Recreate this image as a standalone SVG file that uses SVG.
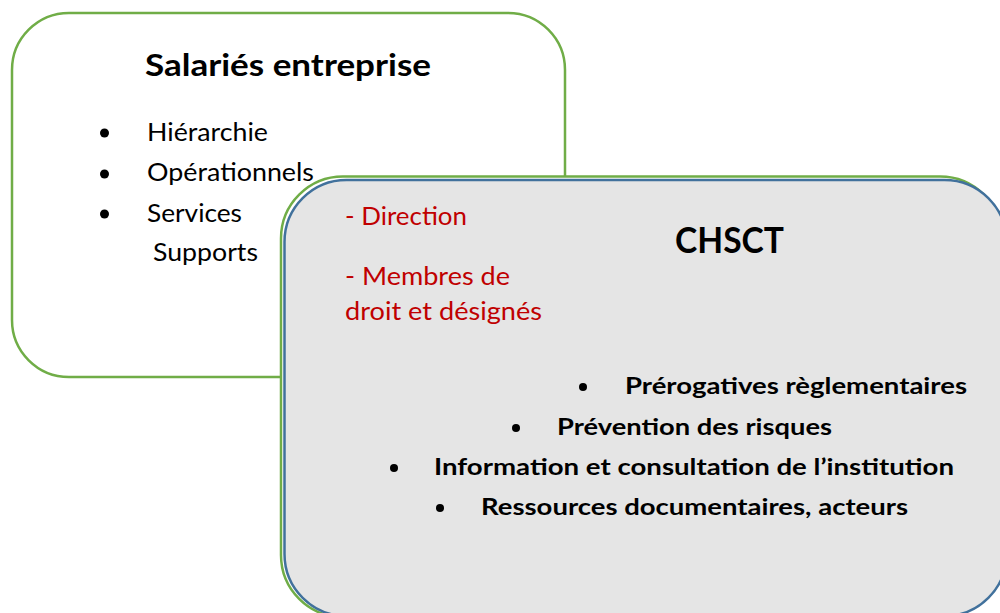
<svg xmlns="http://www.w3.org/2000/svg" width="1000" height="613" viewBox="0 0 1000 613">
<style>
.t{font-family:Lato,"Open Sans","Liberation Sans",sans-serif;}
.reg{font-size:25px;fill:#000;}
.red{font-size:25px;fill:#C00000;}
.bold{font-weight:bold;fill:#000;}
.bl{font-size:22.5px;}
.dot{fill:#000;}
</style>
<rect width="1000" height="613" fill="#fff"/>
<g id="salaries">
<rect x="12" y="13" width="553" height="364" rx="57" ry="57" fill="#fff" stroke="#70AD47" stroke-width="2.5"/>
<text class="t bold" x="145" y="76" font-size="31" textLength="286" lengthAdjust="spacingAndGlyphs">Salariés entreprise</text>
<circle class="dot" cx="104.5" cy="133" r="4.5"/>
<circle class="dot" cx="104.5" cy="174" r="4.5"/>
<circle class="dot" cx="104.5" cy="214" r="4.5"/>
<text class="t reg" x="147" y="141" textLength="121" lengthAdjust="spacingAndGlyphs">Hiérarchie</text>
<text class="t reg" x="147" y="181" textLength="167" lengthAdjust="spacingAndGlyphs">Opérationnels</text>
<text class="t reg" x="147" y="222" textLength="95" lengthAdjust="spacingAndGlyphs">Services</text>
<text class="t reg" x="153" y="261" textLength="105" lengthAdjust="spacingAndGlyphs">Supports</text>
</g>
<g id="chsct">
<rect x="281" y="176.5" width="721" height="440.5" rx="62" ry="62" fill="#fff" stroke="#70AD47" stroke-width="2.5"/>
<rect x="284.5" y="180" width="722" height="436" rx="62" ry="62" fill="#E5E5E5" stroke="#41719C" stroke-width="2.5"/>
<text class="t red" x="345" y="225" textLength="122" lengthAdjust="spacingAndGlyphs">- Direction</text>
<text class="t red" x="345" y="285" textLength="165" lengthAdjust="spacingAndGlyphs">- Membres de</text>
<text class="t red" x="345" y="320" textLength="197" lengthAdjust="spacingAndGlyphs">droit et désignés</text>
<text class="t bold" x="675" y="253" font-size="37" textLength="109" lengthAdjust="spacingAndGlyphs">CHSCT</text>
<circle class="dot" cx="583" cy="387" r="4"/>
<circle class="dot" cx="516" cy="428" r="4"/>
<circle class="dot" cx="394" cy="468" r="4"/>
<circle class="dot" cx="440" cy="508" r="4"/>
<text class="t bold bl" x="625" y="394" textLength="342" lengthAdjust="spacingAndGlyphs">Prérogatives règlementaires</text>
<text class="t bold bl" x="557" y="435" textLength="275" lengthAdjust="spacingAndGlyphs">Prévention des risques</text>
<text class="t bold bl" x="434" y="475" textLength="520" lengthAdjust="spacingAndGlyphs">Information et consultation de l’institution</text>
<text class="t bold bl" x="481" y="515" textLength="427" lengthAdjust="spacingAndGlyphs">Ressources documentaires, acteurs</text>
</g>
</svg>
